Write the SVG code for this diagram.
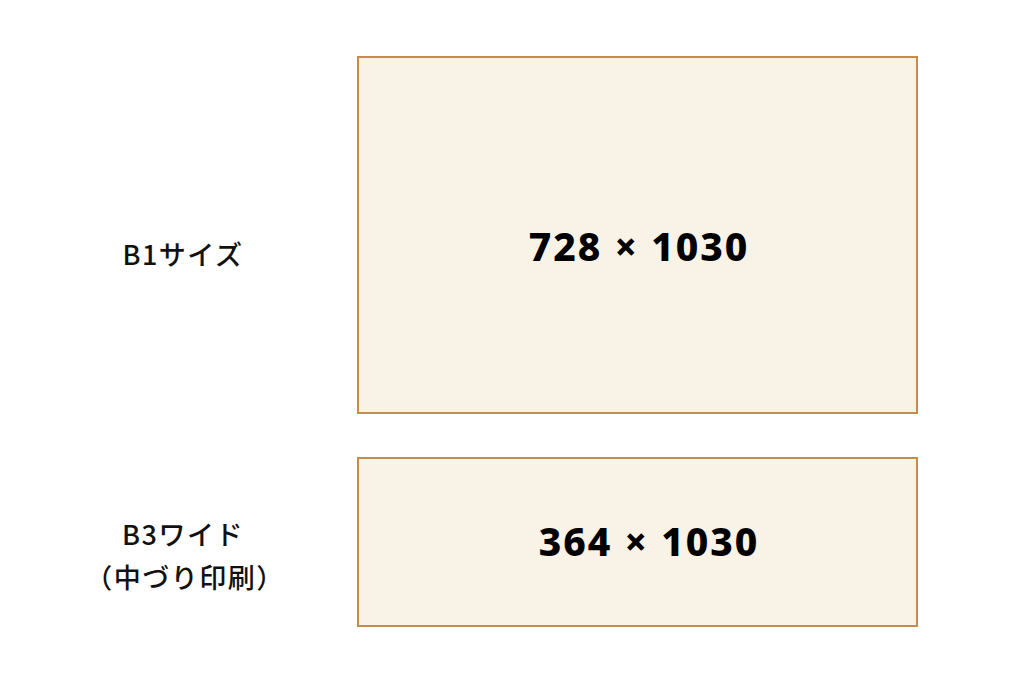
<svg xmlns="http://www.w3.org/2000/svg" width="1024" height="683" viewBox="0 0 1024 683">
<style>
.box{fill:#f9f2e7;stroke:#c48d4c;stroke-width:2}
.lbl{font-family:"Noto Sans CJK JP","Noto Sans",sans-serif;font-size:27px;font-weight:500;letter-spacing:1.5px;fill:#111;text-anchor:middle}
.dim{font-family:"Noto Sans","Noto Sans CJK JP",sans-serif;font-size:39px;font-weight:800;letter-spacing:2px;fill:#000;text-anchor:middle}
</style>
<rect width="1024" height="683" fill="#fff"/>
<g id="b1">
<rect class="box" x="358" y="57" width="559" height="356"/>
<text class="dim" x="639" y="261">728 × 1030</text>
<text class="lbl" x="183" y="265">B1サイズ</text>
</g>
<g id="b3">
<rect class="box" x="358" y="458" width="559" height="168"/>
<text class="dim" x="649" y="556">364 × 1030</text>
<text class="lbl" x="183" y="545">B3ワイド</text>
<text class="lbl" x="185" y="588">（中づり印刷）</text>
</g>
<g id="connectors"/>
</svg>
